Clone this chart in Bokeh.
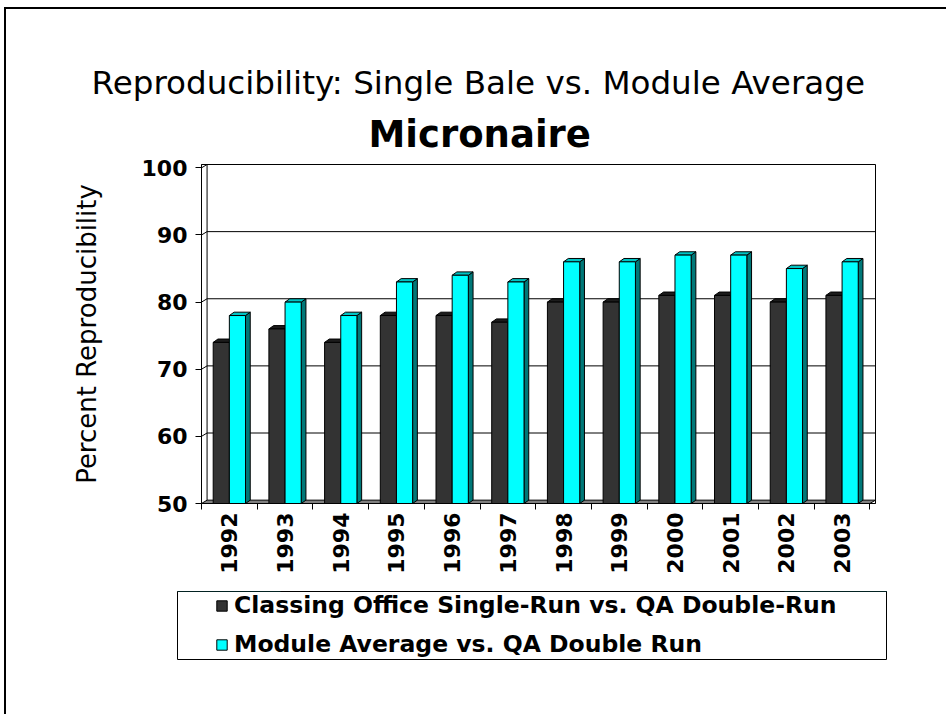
import math
from bokeh.plotting import figure
from bokeh.layouts import column
from bokeh.models import Range1d, FixedTicker, Title, Legend, LegendItem
from bokeh.embed import file_html
from bokeh.resources import INLINE

# ---------------- data ----------------
years = ["1992", "1993", "1994", "1995", "1996", "1997",
         "1998", "1999", "2000", "2001", "2002", "2003"]
classing_single = [74, 76, 74, 78, 78, 77, 80, 80, 81, 81, 80, 81]
module_average = [78, 80, 78, 83, 84, 83, 86, 86, 87, 87, 85, 86]
y_ticks = [50, 60, 70, 80, 90, 100]
series_labels = ["Classing Office Single-Run vs. QA Double-Run",
                 "Module Average vs. QA Double Run"]

# ---------------- style ----------------
DARK, DARK_TOP, DARK_SIDE = "#333333", "#1c1c1c", "#222222"
CYAN, CYAN_TOP, CYAN_SIDE = "#00FFFF", "#00C4C4", "#007878"
FONT = "DejaVu Sans"
BW = 0.29            # bar width (category units)
DX, DY = 0.085, 0.5  # bar depth
WX, WY = 0.1, 0.5    # wall depth

n = len(years)
idx = list(range(n))
ymin, ymax = y_ticks[0], y_ticks[-1]

p = figure(width=940, height=577,
           x_range=Range1d(-0.5, n - 0.5 + WX), y_range=Range1d(ymin, ymax + WY),
           output_backend="svg", toolbar_location=None,
           min_border_left=195, min_border_right=71,
           min_border_top=155, min_border_bottom=83)
p.frame_align = False
p.background_fill_color = "white"
p.border_fill_color = "white"
p.outline_line_color = "black"
p.outline_line_width = 1
p.xgrid.visible = False
p.ygrid.visible = False

# floor
p.patch([-0.5, n - 0.5, n - 0.5 + WX, -0.5 + WX], [ymin, ymin, ymin + WY, ymin + WY],
        fill_color="#808080", line_color="black", line_width=1)
# gridlines on left wall + back wall
gx = [[-0.5, -0.5 + WX, n - 0.5 + WX] for v in y_ticks[1:]]
gy = [[v, v + WY, v + WY] for v in y_ticks[1:]]
p.multi_line(gx, gy, line_color="black", line_width=1)
# back-left edge
p.line([-0.5 + WX, -0.5 + WX], [ymin + WY, ymax + WY], line_color="black", line_width=1)


def bar3d(xc, tops, front, top_c, side_c):
    lefts = [x - BW / 2 for x in xc]
    rights = [x + BW / 2 for x in xc]
    sxs = [[r, r + DX, r + DX, r] for r in rights]
    sys_ = [[ymin, ymin + DY, t + DY, t] for t in tops]
    p.patches(sxs, sys_, fill_color=side_c, line_color="black", line_width=1)
    txs = [[l, r, r + DX, l + DX] for l, r in zip(lefts, rights)]
    tys = [[t, t, t + DY, t + DY] for t in tops]
    p.patches(txs, tys, fill_color=top_c, line_color="black", line_width=1)
    return p.vbar(x=xc, width=BW, bottom=ymin, top=tops,
                  fill_color=front, line_color="black", line_width=1)


bar3d([i - BW / 2 for i in idx], classing_single, DARK, DARK_TOP, DARK_SIDE)
bar3d([i + BW / 2 for i in idx], module_average, CYAN, CYAN_TOP, CYAN_SIDE)

# y axis
ya = p.yaxis[0]
ya.ticker = FixedTicker(ticks=y_ticks)
ya.major_label_text_font = FONT
ya.major_label_text_font_style = "bold"
ya.major_label_text_font_size = "22px"
ya.major_label_text_color = "black"
ya.major_tick_out = 6
ya.major_tick_in = 0
ya.minor_tick_line_color = None
ya.major_label_standoff = 8
ya.axis_label = "Percent Reproducibility"
ya.axis_label_text_font = FONT
ya.axis_label_text_font_style = "normal"
ya.axis_label_text_font_size = "26px"
ya.axis_label_text_color = "black"
ya.axis_label_standoff = 37
ya.axis_line_color = "black"

# x axis
xa = p.xaxis[0]
xa.ticker = FixedTicker(ticks=idx, minor_ticks=[i - 0.5 for i in range(n + 1)])
xa.major_label_overrides = {i: y for i, y in zip(idx, years)}
xa.major_label_orientation = math.pi / 2
xa.major_label_text_font = FONT
xa.major_label_text_font_style = "bold"
xa.major_label_text_font_size = "22px"
xa.major_label_text_color = "black"
xa.major_tick_line_color = None
xa.major_tick_out = 0
xa.major_tick_in = 0
xa.minor_tick_out = 6
xa.minor_tick_in = 0
xa.minor_tick_line_color = "black"
xa.major_label_standoff = 3
xa.axis_line_color = "black"

# titles (p.title is outermost)
p.title.text = "Reproducibility: Single Bale vs. Module Average"
p.title.align = "left"
p.title.offset = -110
p.title.standoff = 0
p.title.text_font = FONT
p.title.text_font_size = "32.6px"
p.title.text_font_style = "normal"
p.title.text_color = "black"
t_sub = Title(text="Micronaire", align="left", offset=167, standoff=18,
              text_font=FONT, text_font_size="37px",
              text_font_style="bold", text_color="black")
p.add_layout(t_sub, "above")

# ---------------- legend panel ----------------
# key renderers use the same series; their values lie outside this panel's
# ranges, so only the legend swatches are visible
lg = figure(width=710, height=69, x_range=Range1d(0, 1), y_range=Range1d(0, 1),
            x_axis_type=None, y_axis_type=None,
            output_backend="svg", toolbar_location=None,
            min_border=0, margin=(5, 0, 54, 171))
lg.frame_align = False
lg.title.visible = False
lg.xgrid.visible = False
lg.ygrid.visible = False
lg.outline_line_color = "black"
lg.outline_line_width = 1
lg.background_fill_color = "white"
lg.border_fill_color = "white"
k_dark = lg.vbar(x=idx, bottom=classing_single, top=classing_single, width=BW,
                 fill_color=DARK, line_color="black")
k_cyan = lg.vbar(x=idx, bottom=module_average, top=module_average, width=BW,
                 fill_color=CYAN, line_color="black")
legend = Legend(items=[LegendItem(label=series_labels[0], renderers=[k_dark]),
                       LegendItem(label=series_labels[1], renderers=[k_cyan])],
                location=(38, 2), orientation="vertical",
                label_text_font=FONT, label_text_font_size="23.5px",
                label_text_font_style="bold", label_text_color="black",
                glyph_width=13, glyph_height=13, label_height=24,
                spacing=11, padding=0, label_standoff=6, margin=0,
                border_line_color=None, background_fill_alpha=0)
lg.add_layout(legend, "center")

layout = column(p, lg, spacing=0,
                styles={"border-left": "2px solid black", "border-top": "2px solid black",
                        "margin-left": "4px", "margin-top": "7px"})

open("out.html", "w").write(file_html(layout, INLINE))
